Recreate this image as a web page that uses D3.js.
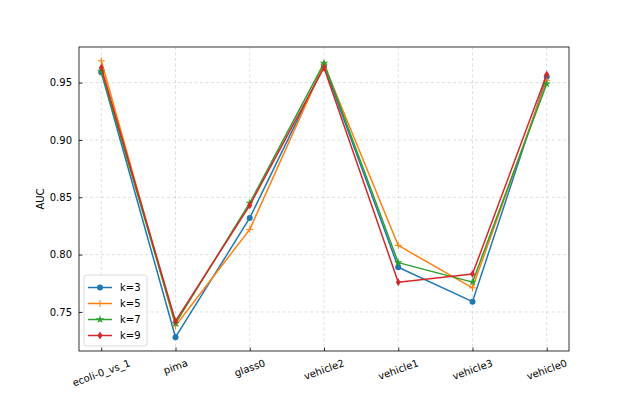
<!DOCTYPE html>
<html>
<head>
<meta charset="utf-8">
<script src="https://cdn.jsdelivr.net/npm/d3@7"></script>
<style>
  body { margin: 0; background: #fff; }
  text { font-family: "DejaVu Sans", sans-serif; fill: #000; }
</style>
</head>
<body>
<div id="chart"></div>
<script>
// data
var datasets = ["ecoli-0_vs_1", "pima", "glass0", "vehicle2", "vehicle1", "vehicle3", "vehicle0"];
var seriesNames = ["k=3", "k=5", "k=7", "k=9"];
var k3 = [0.959, 0.728, 0.832, 0.965, 0.789, 0.759, 0.955];
var k5 = [0.969, 0.738, 0.822, 0.966, 0.808, 0.771, 0.952];
var k7 = [0.960, 0.740, 0.845, 0.967, 0.793, 0.776, 0.949];
var k9 = [0.963, 0.742, 0.843, 0.963, 0.776, 0.783, 0.957];
var yTicks = [0.75, 0.80, 0.85, 0.90, 0.95];

var colors = ["#1f77b4", "#ff7f0e", "#2ca02c", "#d62728"];
var markers = ["circle", "plus", "star", "thin_diamond"];
var allSeries = [k3, k5, k7, k9];

var svgWidth = 632, svgHeight = 395;
var margin = { top: 47, right: 63, bottom: 44, left: 79 };
var width = svgWidth - margin.left - margin.right;
var height = svgHeight - margin.top - margin.bottom;

var svg = d3.select("#chart").append("svg")
  .attr("width", svgWidth)
  .attr("height", svgHeight);

var chartGroup = svg.append("g")
  .attr("transform", `translate(${margin.left}, ${margin.top})`);

// scales with matplotlib style 5% padding
var n = datasets.length;
var xScale = d3.scaleLinear()
  .domain([-0.3, n - 1 + 0.3])
  .range([0, width]);

var allVals = [].concat(k3, k5, k7, k9);
var ymin = d3.min(allVals), ymax = d3.max(allVals);
var pad = (ymax - ymin) * 0.05;
var yScale = d3.scaleLinear()
  .domain([ymin - pad, ymax + pad])
  .range([height, 0]);

// grid
chartGroup.append("g").selectAll("line.gx")
  .data(datasets)
  .enter().append("line")
  .attr("x1", (d, i) => xScale(i)).attr("x2", (d, i) => xScale(i))
  .attr("y1", 0).attr("y2", height)
  .attr("stroke", "#b0b0b0").attr("stroke-opacity", 0.5)
  .attr("stroke-width", 0.8).attr("stroke-dasharray", "3,2.5");

chartGroup.append("g").selectAll("line.gy")
  .data(yTicks)
  .enter().append("line")
  .attr("x1", 0).attr("x2", width)
  .attr("y1", d => yScale(d)).attr("y2", d => yScale(d))
  .attr("stroke", "#b0b0b0").attr("stroke-opacity", 0.5)
  .attr("stroke-width", 0.8).attr("stroke-dasharray", "3,2.5");

// axes, ticks pointing inward
var leftAxis = d3.axisLeft(yScale).tickValues(yTicks)
  .tickFormat(d3.format(".2f")).tickSizeInner(-3.5).tickSizeOuter(0).tickPadding(7);
var yAxis = chartGroup.append("g").call(leftAxis);
yAxis.select(".domain").remove();
yAxis.selectAll("text").attr("font-size", "10px").style("font-family", "DejaVu Sans");
yAxis.selectAll("line").attr("stroke", "#000").attr("stroke-width", 0.8);

var bottomAxis = d3.axisBottom(xScale).tickValues(d3.range(n))
  .tickFormat("").tickSizeInner(-3.5).tickSizeOuter(0);
var xAxis = chartGroup.append("g")
  .attr("transform", `translate(0, ${height})`)
  .call(bottomAxis);
xAxis.select(".domain").remove();
xAxis.selectAll("line").attr("stroke", "#000").attr("stroke-width", 0.8);

// rotated x labels, bbox top aligned like matplotlib
var rot = 20 * Math.PI / 180;
var xLabels = chartGroup.append("g");
datasets.forEach(function(name, i) {
  var t = xLabels.append("text")
    .attr("font-size", "10px")
    .attr("text-anchor", "middle")
    .attr("dominant-baseline", "central")
    .text(name);
  var w = t.node().getComputedTextLength();
  var h = w * Math.sin(rot) + 11.6 * Math.cos(rot);
  t.attr("transform", `translate(${xScale(i)}, ${height + 6 + h / 2}) rotate(-20)`);
});

// y label
chartGroup.append("text")
  .attr("transform", "rotate(-90)")
  .attr("x", -height / 2)
  .attr("y", 40 - margin.left)
  .attr("text-anchor", "middle")
  .attr("dominant-baseline", "central")
  .attr("font-size", "10px")
  .text("AUC");

// marker drawing
function drawMarker(g, type, color) {
  if (type === "circle") {
    g.append("circle").attr("r", 3).attr("fill", color);
  } else if (type === "plus") {
    g.append("path").attr("d", "M-3.5,0H3.5M0,-3.5V3.5")
      .attr("stroke", color).attr("stroke-width", 1).attr("fill", "none");
  } else if (type === "star") {
    g.append("path").attr("d", d3.symbol(d3.symbolStar, 22)()).attr("fill", color);
  } else {
    g.append("path").attr("d", "M0,-4L2.4,0L0,4L-2.4,0Z").attr("fill", color);
  }
}

var line = d3.line()
  .x((d, i) => xScale(i))
  .y(d => yScale(d));

allSeries.forEach(function(vals, s) {
  var sg = chartGroup.append("g");
  sg.append("path")
    .datum(vals)
    .attr("d", line)
    .attr("fill", "none")
    .attr("stroke", colors[s])
    .attr("stroke-width", 1.5)
    .attr("stroke-linejoin", "round");
  vals.forEach(function(v, i) {
    var mg = sg.append("g").attr("transform", `translate(${xScale(i)}, ${yScale(v)})`);
    drawMarker(mg, markers[s], colors[s]);
  });
});

// spines
chartGroup.append("rect")
  .attr("width", width).attr("height", height)
  .attr("fill", "none").attr("stroke", "#000").attr("stroke-width", 0.8);

// legend lower left
var legend = chartGroup.append("g")
  .attr("transform", `translate(5, ${height - 76})`);
legend.append("rect")
  .attr("width", 63).attr("height", 71).attr("rx", 2.5)
  .attr("fill", "#fff").attr("fill-opacity", 0.8)
  .attr("stroke", "#d0d0d0").attr("stroke-width", 0.8);
seriesNames.forEach(function(name, s) {
  var yy = 12.5 + s * 16;
  legend.append("line")
    .attr("x1", 4).attr("x2", 28).attr("y1", yy).attr("y2", yy)
    .attr("stroke", colors[s]).attr("stroke-width", 1.5);
  var mg = legend.append("g").attr("transform", `translate(16, ${yy})`);
  drawMarker(mg, markers[s], colors[s]);
  legend.append("text")
    .attr("x", 36).attr("y", yy)
    .attr("dominant-baseline", "central")
    .attr("font-size", "10px")
    .text(name);
});
</script>
</body>
</html>
